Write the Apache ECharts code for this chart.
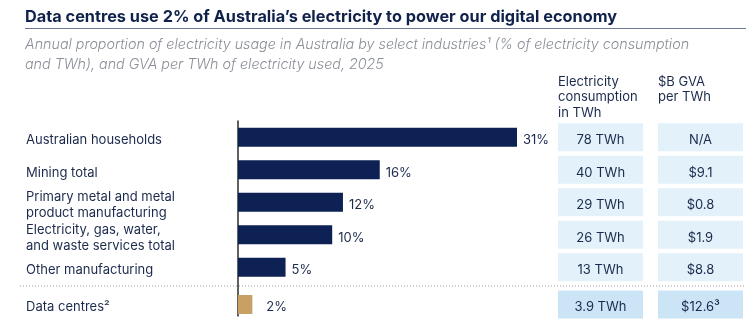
<!DOCTYPE html>
<html>
<head>
<meta charset="utf-8">
<script src="https://cdn.jsdelivr.net/npm/echarts@6/dist/echarts.min.js"></script>
<style>html,body{margin:0;padding:0;background:#fff;}#c{width:752px;height:325px;}</style>
</head>
<body>
<div id="c"></div>
<script>
// ---- data ----
const categories = ['Australian households', 'Mining total', 'Primary metal and metal\nproduct manufacturing', 'Electricity, gas, water,\nand waste services total', 'Other manufacturing'];
const shares = [31.1, 15.8, 11.7, 10.5, 5.3];
const shareLabels = ['31%', '16%', '12%', '10%', '5%'];
const twhLabels = ['78 TWh', '40 TWh', '29 TWh', '26 TWh', '13 TWh'];
const gvaLabels = ['N/A', '$9.1', '$0.8', '$1.9', '$8.8'];
const dcCategory = ['Data centres²'];
const dcShare = [1.6];
const dcShareLabel = ['2%'];
const dcTwhLabel = ['3.9 TWh'];
const dcGvaLabel = ['$12.6³'];

const FONT = 'Inter, Roboto, sans-serif';
const NAVY = '#0d2154';
const TEXT = '#1b2a4c';
const CELL = '#e3f1fb';
const CELL_DC = '#cbe4f6';
const DY = 3;

const chart = echarts.init(document.getElementById('c'), null, {renderer: 'canvas'});

function catAxis(gridIndex, data, show) {
  return {
    type: 'category', gridIndex, data, inverse: true,
    axisLine: {show: !!show, lineStyle: {color: '#2b2b2b', width: 1.5}},
    axisTick: {show: false},
    axisLabel: show === null ? {show: false} : {
      show: true, align: 'left', margin: 212, color: TEXT,
      fontFamily: FONT, fontSize: 13, lineHeight: 16,
      formatter: v => v ? '{s| }\n' + v : '',
      rich: {s: {fontSize: 4, lineHeight: DY * 2, height: DY * 2}}
    }
  };
}
function valAxis(gridIndex, max) {
  return {type: 'value', gridIndex, min: 0, max, show: false, splitLine: {show: false}};
}
function lbl(arr, extra) {
  return Object.assign({show: true, color: TEXT, fontFamily: FONT, fontSize: 13, offset: [0, DY],
    formatter: p => arr[p.dataIndex]}, extra);
}

const option = {
  backgroundColor: '#fff',
  animation: false,
  title: [
    {text: 'Data centres use 2% of Australia\u2019s electricity to power our digital economy', left: 25, top: 7, padding: 0,
     textStyle: {fontFamily: FONT, fontSize: 16.3, fontWeight: 'bold', color: '#10224b', lineHeight: 20}},
    {text: 'Annual proportion of electricity usage in Australia by select industries\u00b9 (% of electricity consumption\nand TWh), and GVA per TWh of electricity used, 2025', left: 25, top: 35, padding: 0,
     textStyle: {fontFamily: FONT, fontSize: 14.3, fontStyle: 'italic', fontWeight: 300, color: '#8a8e96', lineHeight: 20}},
    {text: 'Electricity\nconsumption\nin TWh', left: 558, top: 74, padding: 0,
     textStyle: {fontFamily: FONT, fontSize: 13, fontWeight: 'normal', color: TEXT, lineHeight: 15.5}},
    {text: '$B GVA\nper TWh', left: 658, top: 74, padding: 0,
     textStyle: {fontFamily: FONT, fontSize: 13, fontWeight: 'normal', color: TEXT, lineHeight: 15.5}}
  ],
  grid: [
    {left: 238, top: 121, width: 314, height: 195},
    {left: 238, top: 288, width: 314, height: 33},
    {left: 558, top: 121, width: 85, height: 162.5},
    {left: 558, top: 288, width: 85, height: 33},
    {left: 658, top: 121, width: 85, height: 162.5},
    {left: 658, top: 288, width: 85, height: 33}
  ],
  xAxis: [valAxis(0, 35), valAxis(1, 35), valAxis(2, 1), valAxis(3, 1), valAxis(4, 1), valAxis(5, 1)],
  yAxis: [
    catAxis(0, categories.concat(['']), true),
    catAxis(1, dcCategory, false),
    catAxis(2, categories, null),
    catAxis(3, dcCategory, null),
    catAxis(4, categories, null),
    catAxis(5, dcCategory, null)
  ],
  graphic: [
    {type: 'line', shape: {x1: 25, y1: 28.5, x2: 746, y2: 28.5}, style: {stroke: '#6a7894', lineWidth: 1}, silent: true},
    {type: 'line', shape: {x1: 20, y1: 286, x2: 746, y2: 286}, style: {stroke: '#9a9a9a', lineWidth: 1, lineDash: [1, 2]}, silent: true}
  ],
  series: [
    {type: 'bar', xAxisIndex: 0, yAxisIndex: 0, data: shares, barWidth: 19,
     itemStyle: {color: NAVY},
     label: lbl(shareLabels, {position: 'right', distance: 6})},
    {type: 'bar', xAxisIndex: 1, yAxisIndex: 1, data: dcShare, barWidth: 19,
     itemStyle: {color: '#c9a063'},
     label: lbl(dcShareLabel, {position: 'right', distance: 14})},
    {type: 'bar', xAxisIndex: 2, yAxisIndex: 2, data: twhLabels.map(() => 1), barWidth: 28,
     itemStyle: {color: CELL}, label: lbl(twhLabels, {position: 'inside'})},
    {type: 'bar', xAxisIndex: 3, yAxisIndex: 3, data: dcTwhLabel.map(() => 1), barWidth: 28,
     itemStyle: {color: CELL_DC}, label: lbl(dcTwhLabel, {position: 'inside'})},
    {type: 'bar', xAxisIndex: 4, yAxisIndex: 4, data: gvaLabels.map(() => 1), barWidth: 28,
     itemStyle: {color: CELL}, label: lbl(gvaLabels, {position: 'inside'})},
    {type: 'bar', xAxisIndex: 5, yAxisIndex: 5, data: dcGvaLabel.map(() => 1), barWidth: 28,
     itemStyle: {color: CELL_DC}, label: lbl(dcGvaLabel, {position: 'inside'})}
  ]
};
chart.setOption(option);
</script>
</body>
</html>
